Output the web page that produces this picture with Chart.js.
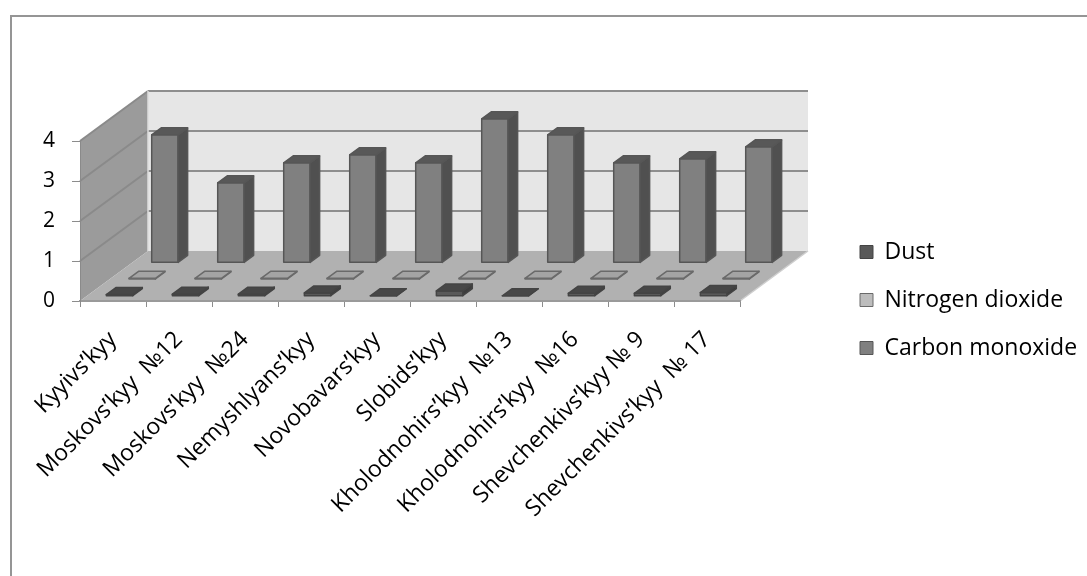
<!DOCTYPE html>
<html>
<head>
<meta charset="utf-8">
<script src="https://cdn.jsdelivr.net/npm/chart.js@4.4.0/dist/chart.umd.min.js"></script>
<style>
  html, body { margin: 0; padding: 0; background: #fff; overflow: hidden; }
  #frame { position: absolute; left: 10px; top: 15px; width: 1200px; height: 700px;
           border: 2px solid #959595; box-sizing: border-box; }
  #wrap { position: absolute; left: 0; top: 0; width: 1087px; height: 576px; }
</style>
</head>
<body>
<div id="frame"></div>
<div id="wrap"><canvas id="chart"></canvas></div>
<script>
const categories = [
  "Kyyivsʹkyy", "Moskovsʹkyy  №12", "Moskovsʹkyy  №24", "Nemyshlyansʹkyy",
  "Novobavarsʹkyy", "Slobidsʹkyy", "Kholodnohirsʹkyy  №13", "Kholodnohirsʹkyy  №16",
  "Shevchenkivsʹkyy № 9", "Shevchenkivsʹkyy  № 17"
];
const seriesNames = ["Dust", "Nitrogen dioxide", "Carbon monoxide"];
const dust = [0.04, 0.05, 0.05, 0.08, 0.01, 0.13, 0.01, 0.07, 0.07, 0.09];
const nitrogenDioxide = [0.03, 0.03, 0.03, 0.03, 0.03, 0.03, 0.03, 0.03, 0.03, 0.03];
const carbonMonoxide = [3.2, 2.0, 2.5, 2.7, 2.5, 3.6, 3.2, 2.5, 2.6, 2.9];
const yTicks = [0, 1, 2, 3, 4];

// look of the 3-D columns, one entry per series
const faces = [
  { front: "#595959", side: "#3d3d3d", top: "#474747", line: "#444444", legend: "#595959" },
  { front: "#b4b4b4", side: "#8a8a8a", top: "#a4a4a4", line: "#6a6a6a", legend: "#bdbdbd" },
  { front: "#808080", side: "#505050", top: "#585858", line: "#565656", legend: "#808080" }
];
const DX = 68, DY = -50;          // full depth of the box
const rowDepth = [1 / 6, 0.5, 5 / 6];
const HALF = 0.07;
const FONT = "'Open Sans', 'Noto Sans', 'DejaVu Sans', sans-serif";

function poly(ctx, pts, fill, stroke, lw) {
  ctx.beginPath();
  ctx.moveTo(pts[0][0], pts[0][1]);
  for (let i = 1; i < pts.length; i++) ctx.lineTo(pts[i][0], pts[i][1]);
  ctx.closePath();
  if (fill) { ctx.fillStyle = fill; ctx.fill(); }
  if (stroke) { ctx.strokeStyle = stroke; ctx.lineWidth = lw || 1; ctx.stroke(); }
}

const walls = {
  id: "walls",
  beforeDraw(chart) {
    const { ctx, chartArea: a, scales: { y } } = chart;
    const top = y.getPixelForValue(y.max), bot = y.getPixelForValue(0);
    ctx.save();
    poly(ctx, [[a.left + DX, top + DY], [a.right + DX, top + DY], [a.right + DX, bot + DY], [a.left + DX, bot + DY]], "#e6e6e6");
    poly(ctx, [[a.left, top], [a.left + DX, top + DY], [a.left + DX, bot + DY], [a.left, bot]], "#9b9b9b");
    ctx.lineWidth = 2;
    y.ticks.forEach(t => {
      if (t.value === 0) return;
      const py = y.getPixelForValue(t.value);
      ctx.strokeStyle = "#8e8e8e";
      ctx.beginPath();
      ctx.moveTo(a.left + DX, py + DY);
      ctx.lineTo(a.right + DX, py + DY);
      ctx.stroke();
      ctx.strokeStyle = "#8a8a8a";
      ctx.beginPath();
      ctx.moveTo(a.left, py);
      ctx.lineTo(a.left + DX, py + DY);
      ctx.stroke();
    });
    ctx.strokeStyle = "#dcdcdc";
    ctx.lineWidth = 1.5;
    ctx.beginPath();
    ctx.moveTo(a.left + DX, top + DY);
    ctx.lineTo(a.left + DX, bot + DY);
    ctx.stroke();
    poly(ctx, [[a.left, bot], [a.right, bot], [a.right + DX, bot + DY], [a.left + DX, bot + DY]], "#b1b1b1");
    ctx.strokeStyle = "#cfcfcf";
    ctx.beginPath();
    ctx.moveTo(a.right, bot);
    ctx.lineTo(a.right + DX, bot + DY);
    ctx.stroke();
    ctx.restore();
  }
};

const columns3d = {
  id: "columns3d",
  beforeDatasetDraw() { return false; },
  afterDatasetsDraw(chart) {
    const ctx = chart.ctx;
    ctx.save();
    ctx.lineJoin = "round";
    for (let i = chart.data.datasets.length - 1; i >= 0; i--) {
      const meta = chart.getDatasetMeta(i);
      const c = faces[i];
      const off = rowDepth[i] - HALF;
      const ox = DX * off, oy = DY * off;
      const tx = DX * 2 * HALF, ty = DY * 2 * HALF;
      meta.data.forEach(el => {
        const p = el.getProps(["x", "y", "base", "width"], true);
        const xl = p.x - p.width / 2 + ox, xr = p.x + p.width / 2 + ox;
        const yt = p.y + oy, yb = p.base + oy;
        poly(ctx, [[xl, yt], [xr, yt], [xr, yb], [xl, yb]], c.front, c.line, 1.5);
        poly(ctx, [[xr, yt], [xr + tx, yt + ty], [xr + tx, yb + ty], [xr, yb]], c.side, c.line, 1.5);
        poly(ctx, [[xl, yt], [xr, yt], [xr + tx, yt + ty], [xl + tx, yt + ty]], c.top, c.line, 1.5);
      });
    }
    ctx.restore();
  }
};

const seriesValues = [dust, nitrogenDioxide, carbonMonoxide];

new Chart(document.getElementById("chart"), {
  type: "bar",
  data: {
    labels: categories,
    datasets: seriesNames.map((name, i) => ({
      label: name,
      data: seriesValues[i],
      backgroundColor: faces[i].legend,
      borderColor: faces[i].line,
      borderWidth: 1,
      grouped: false,
      categoryPercentage: 0.8,
      barPercentage: 0.5
    }))
  },
  options: {
    responsive: true,
    maintainAspectRatio: false,
    animation: false,
    layout: { padding: { left: 10, right: 10, top: 64, bottom: 40 } },
    scales: {
      x: {
        grid: { drawOnChartArea: false, drawTicks: true, tickLength: 6, color: "#8c8c8c", offset: true },
        border: { display: true, color: "#9a9a9a", width: 2 },
        ticks: {
          autoSkip: false, minRotation: 45, maxRotation: 45, padding: 19,
          color: "#000", font: { family: FONT, size: 23 }
        },
        afterFit(s) { s.height = 235; }
      },
      y: {
        min: 0, max: 4,
        grid: { drawOnChartArea: false, drawTicks: true, tickLength: 8, color: "#8c8c8c" },
        border: { display: true, color: "#8a8a8a", width: 1 },
        ticks: {
          stepSize: 1, padding: 17, color: "#000", font: { family: FONT, size: 21 },
          callback: (v) => yTicks.includes(v) ? String(v) : ""
        },
        afterFit(s) { s.width = 70; }
      },
      depth: {
        type: "linear", position: "right", display: true,
        grid: { display: false }, border: { display: false }, ticks: { display: false },
        afterFit(s) { s.width = 95; }
      },
      roof: {
        type: "linear", position: "top", display: true,
        grid: { display: false }, border: { display: false }, ticks: { display: false },
        afterFit(s) { s.height = 77; }
      }
    },
    plugins: {
      legend: {
        position: "right",
        maxWidth: 242,
        labels: {
          boxWidth: 13, boxHeight: 13, padding: 25, color: "#000",
          font: { family: FONT, size: 23 }
        }
      },
      tooltip: { enabled: true }
    }
  },
  plugins: [walls, columns3d]
});
</script>
</body>
</html>
